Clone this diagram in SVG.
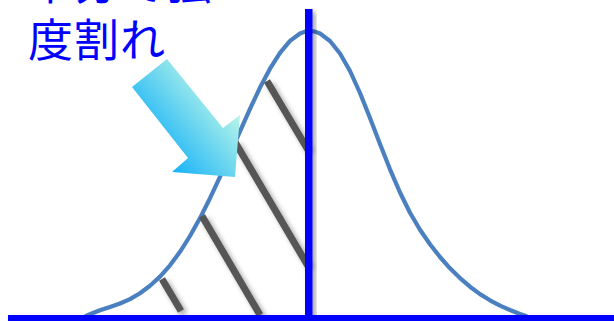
<svg xmlns="http://www.w3.org/2000/svg" width="614" height="321" viewBox="0 0 614 321">
  <style>
    .curve { fill: none; stroke: #4a7fc0; stroke-width: 4.2; stroke-linejoin: round; stroke-linecap: round; }
    .hatch { stroke: #575757; stroke-width: 7; stroke-linecap: butt; filter: url(#shadow); }
    .axis { fill: #0000ff; filter: url(#shadow); }
    .label { font-family: "Noto Sans CJK JP", "Noto Sans", sans-serif; font-size: 45px; fill: #0000ff; letter-spacing: 1px; }
  </style>
  <defs>
    <filter id="shadow" x="-50%" y="-50%" width="200%" height="200%">
      <feDropShadow dx="3" dy="3" stdDeviation="2.5" flood-color="#000" flood-opacity="0.35"/>
    </filter>
    <linearGradient id="arrowGrad" gradientUnits="userSpaceOnUse" x1="172" y1="172" x2="241" y2="116">
      <stop offset="0" stop-color="#16b2f8"/>
      <stop offset="1" stop-color="#b8f5e8"/>
    </linearGradient>
  </defs>
  <rect width="614" height="321" fill="#ffffff"/>

  <g id="distribution">
    <path class="curve" d="M86,316 L93,313 L100,310.2 L110,306.9 L120,303.5 L130,299.1 L140,293.2 L150,285.8 L160,276.6 L170,265.3 L180,251.8 L190,236 L200,218.1 L210,198.2 L220,176.8 L230,154.2 L240,131.3 L250,108.8 L260,87.6 L270,68.7 L280,52.8 L290,40.9 L300,33.5 L305,31.6 L310,31 L315,31.6 L320,33.5 L330,41 L340,53.5 L350,71 L360,93 L370,118 L380,144 L390,169.3 L400,192.5 L410,212.8 L420,229.8 L430,244.3 L440,257 L450,268.3 L460,278.1 L470,286.7 L480,294.1 L490,300.3 L500,305.6 L510,310 L520,314 L526,316"/>
  </g>

  <g id="hatching">
    <line class="hatch" x1="162" y1="279" x2="181" y2="311"/>
    <line class="hatch" x1="202" y1="216" x2="260" y2="315"/>
    <line class="hatch" x1="235" y1="142" x2="308" y2="266"/>
    <line class="hatch" x1="267" y1="81" x2="308" y2="150"/>
  </g>

  <g id="arrow">
    <polygon points="167,59 132,87 188,158 172,172 235,177 240,115 223,128" fill="url(#arrowGrad)"/>
  </g>

  <g id="axes">
    <rect class="axis" x="305" y="9" width="7.5" height="308"/>
    <rect class="axis" x="8" y="315" width="606" height="6"/>
  </g>

  <g id="label">
    <text class="label" x="28" y="0">半分で強</text>
    <text class="label" x="28" y="56.5">度割れ</text>
  </g>
</svg>
